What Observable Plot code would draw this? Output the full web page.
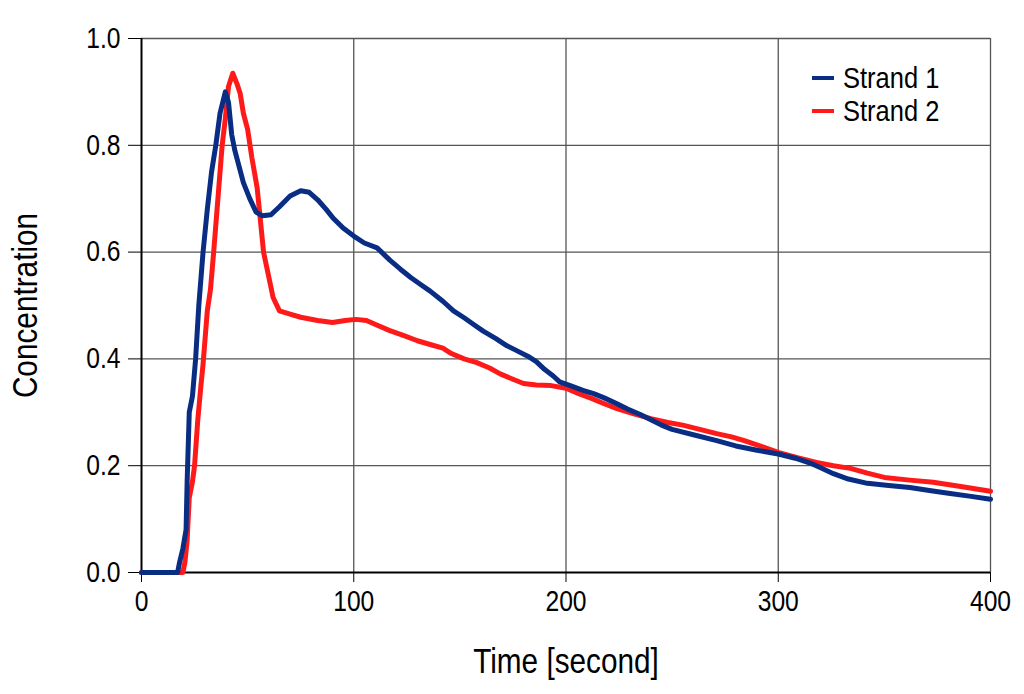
<!DOCTYPE html>
<html>
<head>
<meta charset="utf-8">
<script src="https://cdn.jsdelivr.net/npm/d3@7"></script>
<script src="https://cdn.jsdelivr.net/npm/@observablehq/plot@0.6"></script>
<style>
  html, body { margin: 0; padding: 0; background: #fff; }
  #wrap { position: relative; width: 1024px; height: 694px; font-family: "Liberation Sans", Arial, sans-serif; }
  #legend { position: absolute; left: 812px; top: 61px; font-size: 30px; color: #000; line-height: 33px; }
  #legend .item { display: flex; align-items: center; white-space: nowrap; }
  #legend .sw { width: 22px; height: 4px; margin-right: 9px; }
  #legend .lbl { display: inline-block; transform: scaleX(0.85); transform-origin: left center; }
</style>
</head>
<body>
<div id="wrap"></div>
<script>
const seriesNames = ["Strand 1", "Strand 2"];
const seriesColors = ["#0a2d84", "#ff1a1a"];
const xTicks = [0, 100, 200, 300, 400];
const yTicks = [0, 0.2, 0.4, 0.6, 0.8, 1.0];

const time1 = [0,17,18,19.5,21,21.5,22.5,24,25.5,27,29,31,33,35,37,39.5,41,42.5,44,46,48,51,54,57,61,65,70,75,79,83,87,90,95,100,105,111,117,122,127,132,136,142,147,152,157,161,167,172,177,182,186,190,194,197,202,208,213,218,224,229,235,240,245,250,260,271,280,290,300,308,315,320,326,333,342,352,362,372,381,390,400];
const conc1 = [0,0,0.02,0.045,0.08,0.17,0.30,0.33,0.40,0.50,0.60,0.68,0.75,0.80,0.86,0.90,0.88,0.82,0.79,0.76,0.73,0.70,0.675,0.668,0.67,0.685,0.705,0.715,0.712,0.698,0.68,0.665,0.645,0.63,0.617,0.608,0.585,0.568,0.552,0.538,0.527,0.508,0.49,0.477,0.463,0.452,0.438,0.425,0.415,0.405,0.395,0.38,0.368,0.357,0.35,0.341,0.335,0.327,0.316,0.306,0.296,0.286,0.276,0.268,0.258,0.247,0.237,0.229,0.222,0.214,0.205,0.196,0.185,0.175,0.167,0.163,0.159,0.153,0.148,0.143,0.137];

const time2 = [0,19.5,20.5,21.5,22.5,24,25,26.5,28,29,31,32.5,34,36,38,39.5,41,43,45,46.5,48,50,52,54.5,56,57.5,60,62,65,70,75,83,90,96,101,106,110,117,124,130,136,142,146,152,158,164,169,175,180,186,193,200,206,212,218,224,232,240,248,255,263,271,278,284,292,300,309,318,326,334,342,350,362,373,386,400];
const conc2 = [0,0,0.02,0.06,0.14,0.17,0.20,0.285,0.35,0.39,0.49,0.53,0.60,0.70,0.80,0.85,0.91,0.935,0.915,0.897,0.86,0.83,0.777,0.72,0.66,0.60,0.553,0.515,0.49,0.484,0.478,0.472,0.468,0.472,0.474,0.472,0.465,0.453,0.443,0.434,0.427,0.42,0.41,0.40,0.393,0.383,0.372,0.362,0.354,0.351,0.35,0.345,0.335,0.326,0.316,0.307,0.297,0.288,0.281,0.276,0.268,0.26,0.254,0.247,0.236,0.225,0.215,0.206,0.2,0.195,0.186,0.178,0.173,0.169,0.161,0.152];

const data = [
  ...time2.map((t, i) => ({t, c: conc2[i], s: seriesNames[1]})),
  ...time1.map((t, i) => ({t, c: conc1[i], s: seriesNames[0]}))
];

const chart = Plot.plot({
  width: 1024,
  height: 694,
  marginLeft: 141,
  marginRight: 34,
  marginTop: 38,
  marginBottom: 122,
  style: { fontFamily: '"Liberation Sans", Arial, sans-serif', background: "#fff", color: "#000" },
  x: { domain: [0, 400] },
  y: { domain: [0, 1] },
  color: { domain: seriesNames, range: seriesColors },
  marks: [
    Plot.gridX(xTicks.slice(1), { stroke: "#555", strokeOpacity: 1, strokeWidth: 1.3 }),
    Plot.gridY(yTicks.slice(1), { stroke: "#555", strokeOpacity: 1, strokeWidth: 1.3 }),
    Plot.axisX(xTicks, { tickSize: 10, tickPadding: 8, fontSize: 29, tickFormat: d3.format("d"), label: "Time [second]", labelAnchor: "center", labelOffset: 100, labelArrow: "none", stroke: "#000" }),
    Plot.axisY(yTicks, { tickSize: 13, tickPadding: 8, fontSize: 29, tickFormat: d3.format(".1f"), label: "Concentration", labelAnchor: "center", labelOffset: 129, labelArrow: "none", stroke: "#000" }),
    Plot.ruleX([0], { stroke: "#000", strokeWidth: 2 }),
    Plot.ruleY([0], { stroke: "#000", strokeWidth: 2 }),
    Plot.line(data, { x: "t", y: "c", z: "s", stroke: "s", strokeWidth: 5, strokeLinejoin: "round", strokeLinecap: "round" })
  ]
});

d3.select(chart).selectAll("g[aria-label='x-axis label'] text, g[aria-label='y-axis label'] text").style("font-size", "35px");

const wrap = document.getElementById("wrap");
wrap.appendChild(chart);

// condensed look: squeeze every text horizontally along its own direction
d3.select(chart).selectAll("text").each(function () {
  const len = this.getComputedTextLength();
  if (len > 0) {
    this.setAttribute("textLength", (len * 0.85).toFixed(2));
    this.setAttribute("lengthAdjust", "spacingAndGlyphs");
  }
});

const legend = document.createElement("div");
legend.id = "legend";
seriesNames.forEach((n, i) => {
  const it = document.createElement("div");
  it.className = "item";
  const sw = document.createElement("span");
  sw.className = "sw";
  sw.style.background = seriesColors[i];
  const tx = document.createElement("span");
  tx.className = "lbl";
  tx.textContent = n;
  it.appendChild(sw); it.appendChild(tx);
  legend.appendChild(it);
});
wrap.appendChild(legend);
</script>
</body>
</html>
